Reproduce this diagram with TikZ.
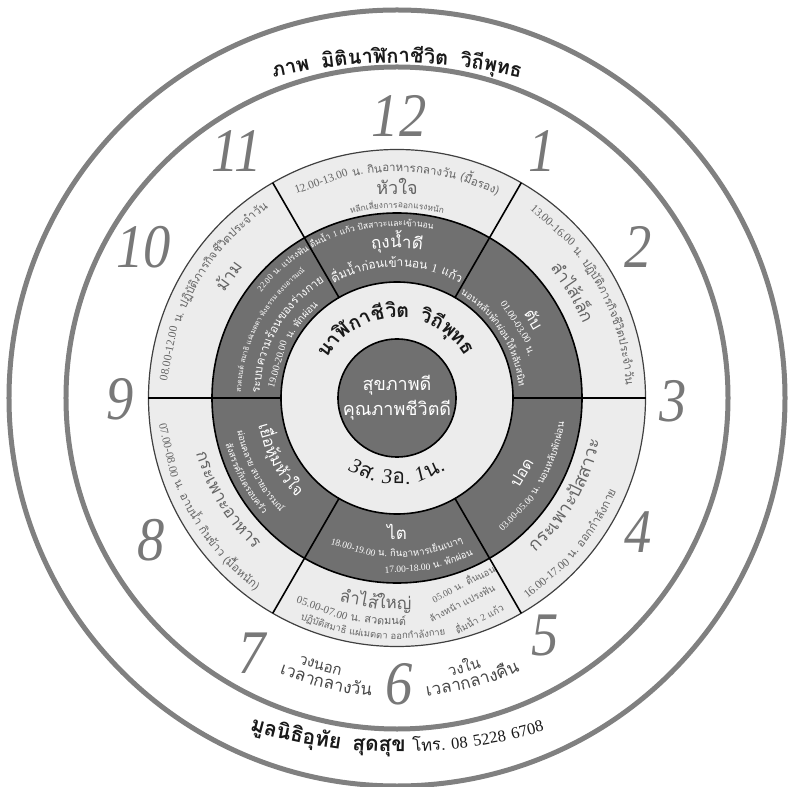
\documentclass[tikz,border=0pt]{standalone}
\usepackage{fontspec}
\usepackage{graphicx}
\newfontfamily\thf[Script=Thai]{Loma}
\newfontfamily\serf{Liberation Serif}
\definecolor{ringgray}{RGB}{128,128,128}
\definecolor{numgray}{RGB}{120,120,120}
\definecolor{lightfill}{RGB}{236,236,236}
\definecolor{darkfill}{RGB}{112,112,112}
\definecolor{segtext}{RGB}{100,100,100}
\definecolor{bandtext}{RGB}{70,70,70}
\definecolor{titletext}{RGB}{25,25,25}
\newdimen\awacc \newdimen\awtot \newdimen\awwd
\newcommand\awmeasure[1]{%
  \pgfinterruptpicture\setbox0=\hbox{#1}\global\awwd=\wd0\relax\endpgfinterruptpicture}
% #1 baseline radius (pt), #2 centre angle, #3 direction (1 = ccw, tops inward; -1 = cw, tops outward), #4 font, #5 chunks
\newcommand\arcwords[5]{%
  \global\awtot=0pt\relax
  \foreach \aw in {#5}{\awmeasure{#4\aw}\global\advance\awtot by \awwd\relax}%
  \xdef\awtotv{\the\awtot}%
  \global\awacc=0pt\relax
  \foreach \aw in {#5}{%
    \awmeasure{#4\aw}%
    \xdef\awwdv{\the\awwd}\xdef\awaccv{\the\awacc}%
    \pgfmathsetmacro\awang{#2+(#3)*(\awaccv+0.5*\awwdv-0.5*\awtotv)/(#1)*57.29578}%
    \pgfmathsetmacro\awrot{\awang+(#3)*90}%
    \node[anchor=base,inner sep=0pt,rotate=\awrot] at (\awang:#1pt) {#4\aw};%
    \global\advance\awacc by \awwd\relax
  }%
}
\newcommand\fs[1]{\fontsize{#1}{#1}\selectfont}
\newcommand\gap[1]{\hspace*{#1}}
\newcommand\phonef{\mdseries\serf\fs{16.5}}
\tikzset{
  ring/.style={draw=ringgray,line width=5pt},
  divider/.style={draw=black,line width=1.6pt},
  num/.style={font=\serf\itshape\fs{62},text=numgray,inner sep=0pt}
}
\begin{document}
\begin{tikzpicture}
\fill[white] (-397pt,-388pt) rectangle (394pt,398pt);
\useasboundingbox (-397pt,-388pt) rectangle (394pt,398pt);
% rings
\draw[ring] (0,0) circle (388pt);
\draw[ring] (0,0) circle (331pt);
% light segments disc
\fill[lightfill] (0,0) circle (248.5pt);
\draw[black!75,line width=1.2pt] (0,0) circle (248.5pt);
% dark ring
\fill[darkfill,even odd rule] (0,0) circle (185pt) circle (116pt);
\draw[divider] (0,0) circle (185pt);
\draw[divider] (0,0) circle (116pt);
\foreach \a in {0,60,...,300}{\draw[divider] (\a:116pt) -- (\a:248.5pt);}
% centre
\draw[fill=darkfill,line width=1.6pt] (0,0) circle (59pt);
\node[align=center,text=white,font=\thf\fontsize{18}{25}\selectfont,inner sep=0pt] (core) at (0,0) {สุขภาพดี\\คุณภาพชีวิตดี};
% clock numbers
\foreach \n/\x/\y in {12/2/282,1/145/247,2/241/151,3/276/-3,4/241/-134,5/148/-238,6/2/-286,7/-145/-255,8/-246/-142,9/-277/-1,10/-253/151,11/-160/247}
  {\node[num] (n\n) at (\x pt,\y pt) {\scalebox{0.88}[1]{\n}};}
% outer band titles (arcs flatter than the rings)
\begin{scope}[shift={(0pt,-185pt)}]
\arcwords{520}{90}{-1}{\thf\bfseries\fs{20}\color{titletext}}{ภาพ,\gap{12pt},มิติ,นาฬิกา,ชีวิต,\gap{12pt},วิถี,พุทธ}
\end{scope}
\begin{scope}[shift={(0pt,166pt)}]
\arcwords{520}{-90}{1}{\thf\bfseries\fs{21}\color{titletext}}{มูล,นิธิ,อุทัย,\gap{12pt},สุด,สุข,\gap{7pt},{\mdseries\fs{16.5}โทร.},\gap{6pt},{\phonef 08},\gap{6pt},{\phonef 5228},\gap{6pt},{\phonef 6708}}
\end{scope}
% clock band labels
\arcwords{283}{-106}{1}{\thf\fs{15}\color{bandtext}}{วง,นอก}
\arcwords{299}{-104}{1}{\thf\fs{17}\color{bandtext}}{เวลา,กลาง,วัน}
\arcwords{283}{-76}{1}{\thf\fs{15}\color{bandtext}}{วง,ใน}
\arcwords{299}{-75}{1}{\thf\fs{17}\color{bandtext}}{เวลา,กลาง,คืน}
% light segments
\arcwords{226}{90}{-1}{\thf\fs{11.5}\color{segtext}}{\serf 12.00-13.00,~,น.,~,กิน,อาหาร,กลาง,วัน,~,{(มื้อรอง)}}
\arcwords{203}{90}{-1}{\thf\fs{18}\color{segtext}}{หัวใจ}
\arcwords{190}{90}{-1}{\thf\fs{8.5}\color{segtext}}{หลีก,เลี่ยง,การ,ออก,แรง,หนัก}
\arcwords{229}{29}{-1}{\thf\fs{11.5}\color{segtext}}{\serf 13.00-16.00,~,น.,~,ปฏิบัติ,ภารกิจ,ชีวิต,ประจำ,วัน}
\arcwords{200}{31}{-1}{\thf\fs{17}\color{segtext}}{ลำไส้,เล็ก}
\arcwords{229}{150}{-1}{\thf\fs{11.5}\color{segtext}}{\serf 08.00-12.00,~,น.,~,ปฏิบัติ,ภารกิจ,ชีวิต,ประจำ,วัน}
\arcwords{202}{144}{-1}{\thf\fs{17}\color{segtext}}{ม้าม}
\arcwords{207}{-30}{1}{\thf\fs{18}\color{segtext}}{กระ,เพาะ,ปัส,สา,วะ}
\arcwords{238}{-40}{1}{\thf\fs{11.5}\color{segtext}}{\serf 16.00-17.00,~,น.,~,ออก,กำลัง,กาย}
\arcwords{208}{211}{1}{\thf\fs{17}\color{segtext}}{กระ,เพาะ,อา,หาร}
\arcwords{238}{210}{1}{\thf\fs{11.5}\color{segtext}}{\serf 07.00-08.00,~,น.,~,อาบ,น้ำ,~,กิน,ข้าว,~,{(มื้อหนัก)}}
\arcwords{211}{-96}{1}{\thf\fs{17}\color{segtext}}{ลำไส้,ใหญ่}
\arcwords{227}{-102}{1}{\thf\fs{11}\color{segtext}}{\serf 05.00-07.00,~,น.,~,สวด,มนต์}
\arcwords{241}{-96}{1}{\thf\fs{9.5}\color{segtext}}{ปฏิบัติ,สมาธิ,~,แผ่,เมตตา,~,ออก,กำลัง,กาย}
\node[rotate=27,text=segtext,font=\thf\fs{9.5},inner sep=0pt] (wk1) at (66pt,-185pt) {{\serf 05.00} น. ตื่นนอน};
\node[rotate=27,text=segtext,font=\thf\fs{9.5},inner sep=0pt] (wk2) at (65pt,-205pt) {ล้างหน้า แปรงฟัน};
\node[rotate=27,text=segtext,font=\thf\fs{9.5},inner sep=0pt] (wk3) at (82pt,-220pt) {ดื่มน้ำ {\serf 2} แก้ว};
% dark ring texts
\arcwords{172}{110}{-1}{\thf\fs{8.5}\color{white}}{\serf 22.00,~,น.,~,แปรง,ฟัน,~,ดื่ม,น้ำ,~,\serf 1,~,แก้ว,~,ปัส,สาวะ,และ,เข้า,นอน}
\arcwords{150}{90}{-1}{\thf\fs{17}\color{white}}{ถุง,น้ำ,ดี}
\arcwords{131}{90}{-1}{\thf\fs{12}\color{white}}{ดื่ม,น้ำ,ก่อน,เข้า,นอน,~,\serf 1,~,แก้ว}
\arcwords{156}{152}{-1}{\thf\fs{7}\color{white}}{สวด,มนต์,~,สมาธิ,~,แผ่,เมตตา,~,ฟัง,ธรรม,~,สงบ,อารมณ์}
\arcwords{137}{150}{-1}{\thf\fs{11.5}\color{white}}{ระบบ,ความ,ร้อน,ของ,ร่าง,กาย}
\arcwords{121}{153}{-1}{\thf\fs{10}\color{white}}{\serf 19.00-20.00,~,น.,~,พัก,ผ่อน}
\arcwords{152}{30}{-1}{\thf\fs{16}\color{white}}{ตับ}
\arcwords{138}{30}{-1}{\thf\fs{10}\color{white}}{\serf 01.00-03.00,~,น.}
\arcwords{122}{32}{-1}{\thf\fs{9.5}\color{white}}{นอน,หลับ,พัก,ผ่อน,ให้,หลับ,สนิท}
\arcwords{151}{-31}{1}{\thf\fs{16}\color{white}}{ปอด}
\arcwords{169}{-30}{1}{\thf\fs{9.5}\color{white}}{\serf 03.00-05.00,~,น.,~,นอน,หลับ,พัก,ผ่อน}
\arcwords{141}{-90}{1}{\thf\fs{17}\color{white}}{ไต}
\arcwords{159}{-90}{1}{\thf\fs{9.5}\color{white}}{\serf 18.00-19.00,~,น.,~,กิน,อาหาร,เย็น,เบาๆ}
\arcwords{174}{-79}{1}{\thf\fs{9.5}\color{white}}{\serf 17.00-18.00,~,น.,~,พัก,ผ่อน}
\arcwords{141}{208}{1}{\thf\fs{16}\color{white}}{เยื่อ,หุ้ม,หัว,ใจ}
\arcwords{163}{208}{1}{\thf\fs{9}\color{white}}{ผ่อน,คลาย,~,สบาย,อารมณ์}
\arcwords{177}{208}{1}{\thf\fs{9}\color{white}}{สังสรรค์,กับ,ครอบ,ครัว}
% centre ring
\arcwords{80}{91}{-1}{\thf\bfseries\fs{19.5}\color{titletext}}{นา,ฬิ,กา,ชี,วิต,\gap{10pt},วิ,ถี,พุท,ธ}
\arcwords{86}{-90}{1}{\thf\fs{21}\color{titletext}}{{{\serf\itshape 3}ส.},~,{{\serf\itshape 3}อ.},~,{{\serf\itshape 1}น.}}
\end{tikzpicture}
\end{document}
